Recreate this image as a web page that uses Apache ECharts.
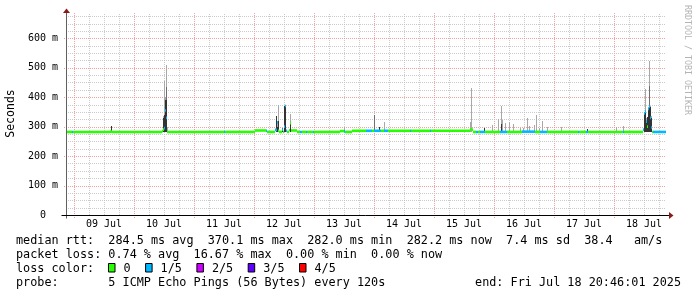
<!DOCTYPE html>
<html><head><meta charset="utf-8">
<script src="https://cdn.jsdelivr.net/npm/echarts@6/dist/echarts.min.js"></script>
<style>html,body{margin:0;padding:0;background:#fff}#c{width:697px;height:297px}</style>
</head><body><div id="c"></div>
<script>
// ---------- data ----------
const startTime = '2025-07-08 20:46:01';
const endTime = '2025-07-18 20:46:01';
const dayLabels = ['09 Jul','10 Jul','11 Jul','12 Jul','13 Jul','14 Jul','15 Jul','16 Jul','17 Jul','18 Jul'];
const dayLabelTimes = ['2025-07-09 12:00','2025-07-10 12:00','2025-07-11 12:00','2025-07-12 12:00','2025-07-13 12:00',
  '2025-07-14 12:00','2025-07-15 12:00','2025-07-16 12:00','2025-07-17 12:00','2025-07-18 12:00'];
const yTicks = [0, 100, 200, 300, 400, 500, 600];
const yTickLabels = ['0  ', '100 m', '200 m', '300 m', '400 m', '500 m', '600 m'];
const yMax = 686;

// median rtt (ms) step data: [time, value, loss level]
const medianData = [
  ['07-08 20:46',282,0],['07-08 23:12',282,1],['07-08 23:36',282,0],['07-09 14:24',283,0],['07-09 15:12',282,0],
  ['07-10 11:12',285,0],['07-10 11:36',290,0],['07-10 12:00',295,1],['07-10 12:24',355,1],['07-10 12:48',330,1],
  ['07-10 13:12',282,0],['07-11 12:00',282,1],['07-11 12:24',282,0],['07-12 00:24',287,0],['07-12 04:48',286,1],
  ['07-12 05:12',282,0],['07-12 08:24',289,1],['07-12 09:12',314,1],['07-12 09:36',286,0],['07-12 10:00',282,0],
  ['07-12 11:12',290,1],['07-12 11:36',282,0],['07-12 12:00',300,1],['07-12 12:24',370,1],['07-12 12:48',286,1],
  ['07-12 13:12',282,0],['07-12 14:00',288,0],['07-12 14:24',312,0],['07-12 14:48',287,0],['07-12 17:12',282,0],
  ['07-12 18:24',282,1],['07-12 19:12',282,0],['07-12 20:48',282,1],['07-12 21:12',282,0],['07-12 23:36',282,1],
  ['07-13 00:00',282,0],['07-13 10:24',285,0],['07-13 12:00',284,1],['07-13 12:24',282,0],['07-13 15:12',286,0],
  ['07-13 20:48',286,1],['07-13 23:12',286,0],['07-14 00:00',286,1],['07-14 02:48',286,0],['07-14 04:00',286,1],
  ['07-14 05:36',286,0],['07-14 14:24',286,1],['07-14 14:48',286,0],['07-14 22:24',286,1],['07-14 22:48',286,0],
  ['07-15 14:24',290,0],['07-15 15:36',282,0],['07-15 16:48',282,1],['07-15 17:36',282,0],['07-15 18:24',282,1],
  ['07-15 20:24',282,0],['07-16 02:24',282,1],['07-16 05:12',282,0],['07-16 11:04',283,1],['07-16 16:24',282,0],
  ['07-16 18:24',282,1],['07-16 21:12',282,0],['07-17 09:36',282,1],['07-17 10:00',282,0],['07-17 12:48',282,1],
  ['07-17 13:36',282,0],['07-18 03:36',282,1],['07-18 04:00',282,0],['07-18 11:36',290,1],['07-18 12:00',345,1],
  ['07-18 12:24',351,1],['07-18 12:48',317,1],['07-18 13:12',300,0],['07-18 13:36',360,1],['07-18 14:00',368,1],
  ['07-18 14:24',330,1],['07-18 14:48',297,1],['07-18 15:12',282,0],['07-18 15:36',282,1],['07-18 20:46',282,1]
];
// smoke (ms): [time, outer top, middle top, inner top]  (0 = none)
const smokeData = [
  ['07-09 14:48',0,0,302],
  ['07-10 11:36',335,0,330],['07-10 12:00',455,0,340],['07-10 12:24',400,0,390],['07-10 12:48',508,435,390],['07-10 13:12',300,0,0],
  ['07-12 08:48',337,0,337],['07-12 09:12',320,0,300],['07-12 09:36',375,0,320],['07-12 11:12',0,0,295],
  ['07-12 12:00',371,0,371],['07-12 12:24',373,0,371],['07-12 14:24',343,0,315],
  ['07-13 12:00',298,0,0],
  ['07-14 00:00',0,340,0],['07-14 02:00',0,0,300],['07-14 04:00',317,0,0],
  ['07-15 14:24',316,0,0],['07-15 14:48',432,0,0],['07-15 20:00',0,0,297],['07-15 23:00',306,0,0],
  ['07-16 01:44',326,0,0],['07-16 02:48',370,0,309],['07-16 03:20',323,0,0],['07-16 04:32',314,0,0],
  ['07-16 06:08',317,0,0],['07-16 07:44',309,0,0],['07-16 10:32',295,0,0],['07-16 11:44',295,0,0],
  ['07-16 13:20',328,0,0],['07-16 14:08',303,0,0],['07-16 16:08',306,0,0],['07-16 16:56',340,0,0],
  ['07-16 17:52',295,0,0],['07-16 19:20',320,0,0],['07-16 21:04',300,0,0],
  ['07-17 02:48',300,0,0],['07-17 13:04',0,0,292],
  ['07-18 00:48',300,0,0],['07-18 03:44',303,0,0],['07-18 12:00',340,0,345],['07-18 12:24',428,0,351],
  ['07-18 12:48',330,0,320],['07-18 13:12',333,0,333],['07-18 13:36',368,0,360],['07-18 14:00',522,438,368],
  ['07-18 14:24',370,0,368],['07-18 14:48',335,0,330]
];
const smokeBase = 281;
const lossColors = ['#26ff00', '#00b8ff', '#cc00ff', '#5e00ff', '#ff0000'];
const lossLabels = ['0', '1/5', '2/5', '3/5', '4/5'];

const rttAvg = '284.5', rttMax = '370.1', rttMin = '282.0', rttNow = '282.2', rttSd = '7.4', rttAmps = '38.4';
const lossAvg = '0.74', lossMax = '16.67', lossMin = '0.00', lossNow = '0.00';
const probeText = '5 ICMP Echo Pings (56 Bytes) every 120s';
const endText = 'end: Fri Jul 18 20:46:01 2025';

// ---------- helpers ----------
function ms(s) {
  if (s.length <= 11) s = '2025-' + s;
  return new Date(s.replace(' ', 'T')).getTime();
}
const T0 = ms(startTime), T1 = ms(endTime);
const STEP = 24 * 60 * 1000;
const HOUR = 3600 * 1000;
const MONO = '"DejaVu Sans Mono", monospace';

// grid line definitions (from axis intervals)
const gridItems = [];
for (let t = ms('2025-07-08 00:00'); t <= T1; t += 6 * HOUR) {
  if (t < T0) continue;
  const major = new Date(t).getHours() === 0;
  gridItems.push({ value: [t, 0], kind: major ? 'vmaj' : 'vmin' });
}
for (let v = 25; v < yMax; v += 25) {
  gridItems.push({ value: [T0, v], kind: v % 100 === 0 ? 'hmaj' : 'hmin' });
}

const minorColor = 'rgba(190,190,190,0.8)';
const majorColor = 'rgba(240,130,130,0.75)';

function renderGrid(params, api) {
  const cs = params.coordSys;
  const g = gridItems[params.dataIndex];
  const p = api.coord(g.value);
  const major = g.kind === 'vmaj' || g.kind === 'hmaj';
  const style = { stroke: major ? majorColor : minorColor, lineWidth: 1, lineDash: [1, 1] };
  if (g.kind[0] === 'v') {
    const x = Math.round(p[0]) + 0.5;
    return { type: 'line', shape: { x1: x, y1: cs.y + cs.height + (major ? 3 : 0), x2: x, y2: cs.y }, style };
  } else {
    const y = Math.round(p[1]) + 0.5;
    return { type: 'line', shape: { x1: cs.x - (major ? 2 : 0), y1: y, x2: cs.x + cs.width, y2: y }, style };
  }
}

function renderAxes(params, api) {
  const cs = params.coordSys;
  const o = api.coord([T0, 0]);
  const x0 = Math.round(o[0]) + 0.5, y0 = Math.round(o[1]) + 0.5;
  const xe = cs.x + cs.width + 3;
  const yt = cs.y;
  const arrow = '#8b1a1a';
  return {
    type: 'group',
    children: [
      { type: 'line', shape: { x1: x0, y1: y0 + 3, x2: x0, y2: yt }, style: { stroke: '#606060', lineWidth: 1 } },
      { type: 'line', shape: { x1: x0 - 5, y1: y0, x2: xe, y2: y0 }, style: { stroke: '#000', lineWidth: 1 } },
      { type: 'polygon', shape: { points: [[xe, y0 - 3.5], [xe + 4.5, y0], [xe, y0 + 3.5]] }, style: { fill: arrow } },
      { type: 'polygon', shape: { points: [[x0 - 3.5, yt], [x0, yt - 4.5], [x0 + 3.5, yt]] }, style: { fill: arrow } }
    ]
  };
}

const smokeSeriesData = smokeData.map(d => [ms(d[0]), d[1], d[2], d[3]]);
function renderSmoke(params, api) {
  const t = api.value(0);
  const xa = api.coord([t, smokeBase]);
  const xb = api.coord([t + STEP, smokeBase]);
  const x = Math.round(xa[0]);
  const w = Math.max(1, Math.round(xb[0]) - x);
  const yb = Math.round(xa[1]);
  const children = [];
  const levels = [[api.value(1), '#a8a8a8'], [api.value(2), '#6e6e6e'], [api.value(3), '#333333']];
  for (const [v, c] of levels) {
    if (!v) continue;
    const yt = Math.round(api.coord([t, v])[1]);
    children.push({ type: 'rect', shape: { x: x, y: yt, width: w, height: yb - yt }, style: { fill: c } });
  }
  return { type: 'group', children };
}

const medianSeriesData = medianData.map(d => [ms(d[0]), d[1], d[2]]);
function renderMedian(params, api) {
  const i = params.dataIndex;
  if (i >= medianSeriesData.length - 1) return null;
  const t0 = api.value(0), v = api.value(1), loss = api.value(2);
  const nxt = medianSeriesData[i + 1];
  const p0 = api.coord([t0, v]), p1 = api.coord([nxt[0], v]);
  const x = Math.round(p0[0]);
  const w = Math.max(1, Math.round(p1[0]) - x);
  return { type: 'rect', shape: { x: x, y: p0[1] - 1.3, width: w, height: 2.6 }, style: { fill: lossColors[loss] } };
}

// ---------- texts ----------
const CW = 7.1;
const LX = 16;
const legendFont = '11.8px ' + MONO;
const line1 = 'median rtt:  ' + rttAvg + ' ms avg  ' + rttMax + ' ms max  ' + rttMin + ' ms min  ' + rttNow + ' ms now  ' + rttSd + ' ms sd  ' + rttAmps + '   am/s';
const line2 = 'packet loss: ' + lossAvg + ' % avg  ' + lossMax + ' % max  ' + lossMin + ' % min  ' + lossNow + ' % now';
const line4 = 'probe:       ' + probeText;

const graphics = [
  { type: 'text', x: LX, y: 241, style: { text: line1, font: legendFont, fill: '#000', verticalAlign: 'middle' } },
  { type: 'text', x: LX, y: 255, style: { text: line2, font: legendFont, fill: '#000', verticalAlign: 'middle' } },
  { type: 'text', x: LX, y: 269, style: { text: 'loss color:', font: legendFont, fill: '#000', verticalAlign: 'middle' } },
  { type: 'text', x: LX, y: 283, style: { text: line4, font: legendFont, fill: '#000', verticalAlign: 'middle' } },
  { type: 'text', x: 681, y: 283, style: { text: endText, font: legendFont, fill: '#000', align: 'right', verticalAlign: 'middle' } },
  { type: 'text', x: 11, y: 113.5, rotation: Math.PI / 2, style: { text: 'Seconds', font: '11.5px ' + MONO, fill: '#000', align: 'center', verticalAlign: 'middle' } },
  { type: 'text', x: 687.5, y: 60, rotation: -Math.PI / 2, style: { text: 'RRDTOOL / TOBI OETIKER', font: '8.3px ' + MONO, fill: '#b4b4b4', align: 'center', verticalAlign: 'middle' } }
];
let sx = 108.5;
lossLabels.forEach((lab, i) => {
  graphics.push({ type: 'rect', shape: { x: sx, y: 263.5, width: 6.5, height: 8.5 }, style: { fill: lossColors[i], stroke: '#000', lineWidth: 1 } });
  graphics.push({ type: 'text', x: sx + 15, y: 269, style: { text: lab, font: legendFont, fill: '#000', verticalAlign: 'middle' } });
  sx = sx + 15 + lab.length * CW + 15;
});

// ---------- chart ----------
const chart = echarts.init(document.getElementById('c'), null, { renderer: 'canvas', width: 697, height: 297 });
const dayLabelMs = dayLabelTimes.map(ms);
chart.setOption({
  animation: false,
  backgroundColor: '#fff',
  grid: { left: 66, right: 31, top: 13, bottom: 82, containLabel: false, outerBoundsMode: 'none' },
  xAxis: {
    type: 'value', min: T0, max: T1,
    axisLine: { show: false }, axisTick: { show: false }, splitLine: { show: false },
    axisLabel: {
      customValues: dayLabelMs,
      formatter: v => { const k = dayLabelMs.indexOf(v); return k >= 0 ? dayLabels[k] : ''; },
      fontFamily: MONO, fontSize: 10, color: '#000', margin: 4
    }
  },
  yAxis: {
    type: 'value', min: 0, max: yMax, interval: 100,
    axisLine: { show: false }, axisTick: { show: false }, splitLine: { show: false },
    axisLabel: {
      formatter: v => { const k = yTicks.indexOf(v); return k >= 0 ? yTickLabels[k] : ''; },
      fontFamily: MONO, fontSize: 10, color: '#000', margin: 8, showMaxLabel: false
    }
  },
  series: [
    { type: 'custom', name: 'grid', silent: true, clip: false, z: 1, renderItem: renderGrid, data: gridItems.map(g => g.value) },
    { type: 'custom', name: 'smoke', silent: true, z: 2, renderItem: renderSmoke, data: smokeSeriesData },
    { type: 'custom', name: 'median rtt', silent: true, z: 3, renderItem: renderMedian, data: medianSeriesData },
    { type: 'custom', name: 'axes', silent: true, clip: false, z: 4, renderItem: renderAxes, data: [[T0, 0]] }
  ],
  graphic: graphics
});
</script>
</body></html>
